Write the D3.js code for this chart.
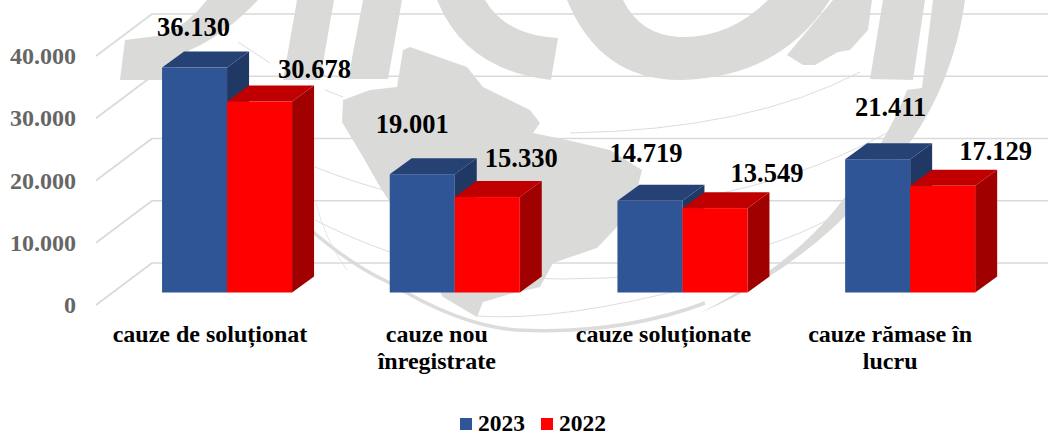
<!DOCTYPE html>
<html>
<head>
<meta charset="utf-8">
<script src="https://cdn.jsdelivr.net/npm/d3@7/dist/d3.min.js"></script>
<style>
	html, body { margin: 0; padding: 0; background: #fff; }
	svg { display: block; }
	text { font-family: "Liberation Serif", serif; font-weight: bold; }
</style>
</head>
<body>
<div id="chart"></div>
<script>
const categories = [["cauze de soluționat"], ["cauze nou", "înregistrate"], ["cauze soluționate"], ["cauze rămase în", "lucru"]];
const seriesNames = ["2023", "2022"];
const values2023 = [36130, 19001, 14719, 21411];
const values2022 = [30678, 15330, 13549, 17129];
const yTicks = [0, 10000, 20000, 30000, 40000];

const width = 1048, height = 436;
const depthX = 22, depthY = 16;   // bar depth
const wallX = 56, wallY = 42;     // side wall of the chart box
const frontShift = 29.5;          // bars stand this far below the back wall

const blue = {front: "#2f5597", top: "#264174", side: "#203864"};
const red = {front: "#ff0000", top: "#c00000", side: "#a00000"};
const colors = [blue, red];

// hand placed labels, same as the original
const labelNudge = [
	[[-1, -32], [-10, -41], [-4, -39], [13, -43]],
	[[55, -24], [34, -30], [52, -26], [53, -26]]
];
const catNudge = [-17, -18, -19, -20];

const svg = d3.select("#chart").append("svg")
	.attr("width", width)
	.attr("height", height);

// watermark behind the chart (logo + globe)
const wmFill = "#dadbd9";
const wmShapes = [
	"M120 80 L125 40 L165 35 Q190 22 207 0 L258 0 Q225 35 190 50 L165 80 Z",
	"M297 0 L334 0 L320 80 L283 80 Z",
	"M363 0 L402 0 L388 79 L348 79 Z",
	"M437 0 Q465 70 551 80 L558 38 Q505 35 485 0 Z",
	"M567 0 Q600 80 680 80 Q780 78 830 0 L768 0 Q730 38 680 37 Q640 35 623 0 Z",
	"M787 55 L833 0 L872 0 L868 30 L850 50 L838 52 L815 65 L803 65 Z",
	"M883 0 L925 0 L913 80 L870 79 Z",
	"M933 0 L965 0 Q950 110 870 190 Q800 270 700 313 Q800 262 850 190 Q890 135 907 90 L922 88 Z",
	// south america
	"M403 50 L410 47 L467 67 L483 87 L530 110 L540 123 L533 133 L567 140 L610 150 L642 170 L637 190 L617 227 L597 248 L553 263 L540 287 L510 294 L490 300 L483 302 L477 317 L443 297 L420 260 L395 210 L380 187 L363 157 L342 122 L343 100 L370 90 L397 87 Z"
];
const wmLayer = svg.append("g").style("filter", "blur(0.7px)");
wmLayer.append("g").selectAll("path")
	.data(wmShapes)
	.enter()
	.append("path")
	.attr("d", d => d)
	.attr("fill", wmFill);

const wmLines = [
	{d: "M305 225 Q350 265 390 283 Q460 326 517 330 Q620 335 705 303", w: 3.5},
	{d: "M570 133 Q750 130 860 72", w: 1},
	{d: "M700 197 Q800 180 887 133", w: 1},
	{d: "M700 262 Q790 245 850 207", w: 1},
	{d: "M315 167 Q350 181 390 192", w: 1},
	{d: "M238 42 L270 63", w: 1},
	{d: "M325 90 L343 97", w: 1},
	{d: "M315 220 Q350 238 390 252", w: 1},
	{d: "M316 203 Q325 240 347 270", w: 0.7},
	{d: "M477 316 Q560 322 700 285", w: 1},
	{d: "M520 278 Q600 282 700 270", w: 1}
];
wmLayer.append("g").selectAll("path")
	.data(wmLines)
	.enter()
	.append("path")
	.attr("d", d => d.d)
	.attr("fill", "none")
	.attr("stroke", "#dcdcdc")
	.attr("stroke-width", d => d.w);

var yScale = d3.scaleLinear()
	.domain([0, 40000])
	.range([263, 14]);
var xScale = d3.scaleBand()
	.domain(d3.range(categories.length))
	.range([113.2, 1024])
	.paddingInner(0.429)
	.paddingOuter(0.2145);
var xSeries = d3.scaleBand()
	.domain(d3.range(seriesNames.length))
	.range([0, xScale.bandwidth()]);

// back wall and side wall gridlines
var grid = svg.append("g").selectAll("g")
	.data(yTicks)
	.enter()
	.append("g");
grid.append("line")
	.attr("x1", 152)
	.attr("x2", width)
	.attr("y1", d => yScale(d))
	.attr("y2", d => yScale(d))
	.attr("stroke", "#d9d9d9")
	.attr("stroke-width", 1.6);
grid.append("line")
	.attr("x1", 152 - wallX)
	.attr("x2", 152)
	.attr("y1", d => yScale(d) + wallY)
	.attr("y2", d => yScale(d))
	.attr("stroke", "#d9d9d9")
	.attr("stroke-width", 1.6);

// y axis
const roFormat = d3.formatLocale({decimal: ",", thousands: ".", grouping: [3], currency: ["", ""]}).format(",d");
var yAxis = d3.axisLeft(yScale)
	.tickValues(yTicks)
	.tickFormat(roFormat)
	.tickSize(0)
	.tickPadding(0);
var yAxisG = svg.append("g")
	.attr("transform", "translate(76," + wallY + ")")
	.call(yAxis);
yAxisG.select(".domain").remove();
yAxisG.selectAll("text")
	.style("font-size", "24px")
	.attr("fill", "#666666");

// bars
function barTop(v) { return yScale(v) + frontShift; }
const barBase = yScale(0) + frontShift;

const allValues = [values2023, values2022];
allValues.forEach((vals, s) => {
	var g = svg.append("g").selectAll("g")
		.data(vals)
		.enter()
		.append("g");
	const x0 = (d, i) => xScale(i) + xSeries(s);
	const bw = xSeries.bandwidth();
	g.append("polygon")
		.attr("points", function (d, i) {
			let x = x0(d, i) + bw;
			return [[x, barTop(d)], [x + depthX, barTop(d) - depthY], [x + depthX, barBase - depthY], [x, barBase]].join(" ");
		})
		.attr("fill", colors[s].side);
	g.append("polygon")
		.attr("points", function (d, i) {
			let x = x0(d, i);
			return [[x, barTop(d)], [x + depthX, barTop(d) - depthY], [x + bw + depthX, barTop(d) - depthY], [x + bw, barTop(d)]].join(" ");
		})
		.attr("fill", colors[s].top);
	g.append("rect")
		.attr("x", x0)
		.attr("y", d => barTop(d))
		.attr("width", bw)
		.attr("height", d => barBase - barTop(d))
		.attr("fill", colors[s].front);
});

// value labels go on top of everything
allValues.forEach((vals, s) => {
	svg.append("g").selectAll("text")
		.data(vals)
		.enter()
		.append("text")
		.attr("x", (d, i) => xScale(i) + xSeries(s) + xSeries.bandwidth() / 2 + labelNudge[s][i][0])
		.attr("y", (d, i) => barTop(d) + labelNudge[s][i][1])
		.attr("text-anchor", "middle")
		.attr("font-size", "26.5px")
		.attr("fill", "#000")
		.text(d => roFormat(d));
});

// category labels
var catText = svg.append("g").selectAll("text")
	.data(categories)
	.enter()
	.append("text")
	.attr("text-anchor", "middle")
	.attr("font-size", "24px")
	.attr("fill", "#000");
catText.selectAll("tspan")
	.data((d, i) => d.map(t => ({t: t, i: i})))
	.enter()
	.append("tspan")
	.attr("x", d => xScale(d.i) + xScale.bandwidth() / 2 + catNudge[d.i])
	.attr("y", (d, j) => 342 + j * 27)
	.text(d => d.t);

// legend
const legendX = [460, 541];
var legend = svg.append("g").selectAll("g")
	.data(seriesNames)
	.enter()
	.append("g")
	.attr("transform", (d, i) => "translate(" + legendX[i] + ",418)");
legend.append("rect")
	.attr("width", 12)
	.attr("height", 12)
	.attr("fill", (d, i) => colors[i].front);
legend.append("text")
	.attr("x", 18)
	.attr("y", 13)
	.attr("font-size", "23.5px")
	.attr("fill", "#000")
	.text(d => d);
</script>
</body>
</html>
